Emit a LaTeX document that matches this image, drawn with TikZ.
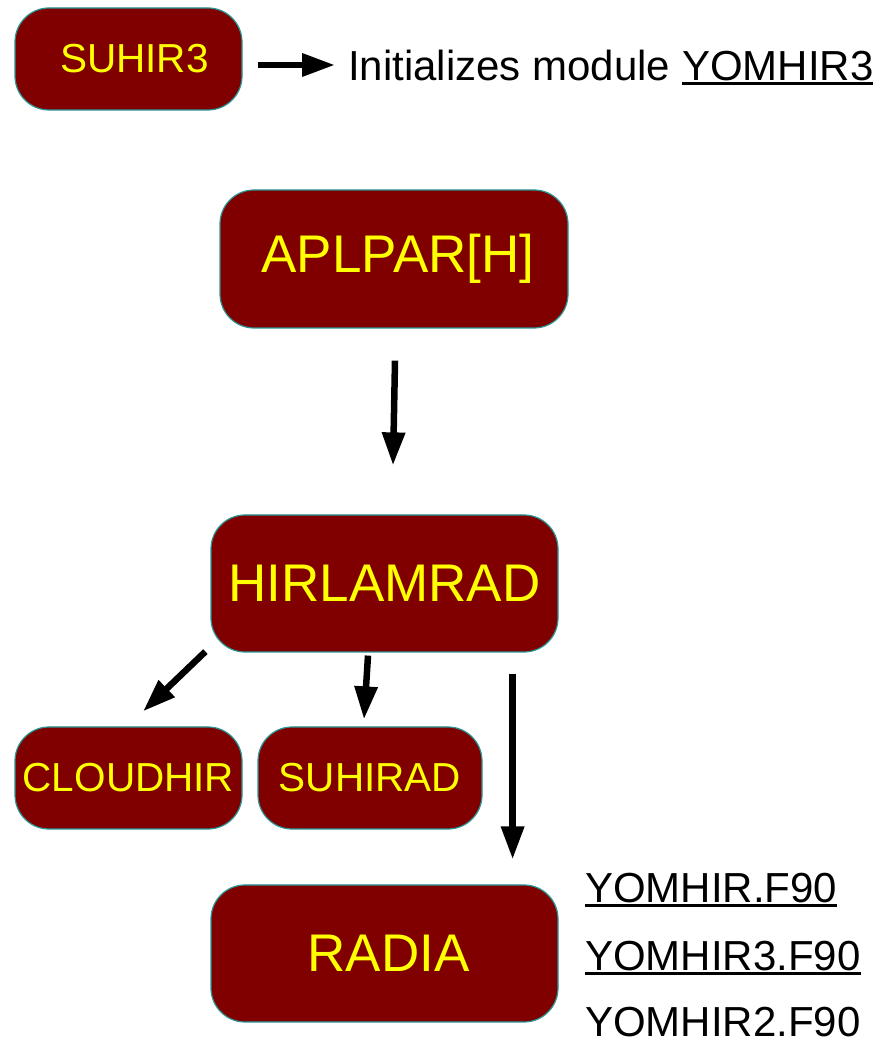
\documentclass[tikz,border=0pt]{standalone}
\usepackage{fontspec}
\setmainfont{Liberation Sans}
\usetikzlibrary{arrows.meta}
\definecolor{boxfill}{RGB}{128,0,0}
\definecolor{boxline}{RGB}{40,150,150}
\definecolor{boxtext}{RGB}{255,255,0}
\newlength\ulwd
\newcommand\ulbox[1]{\settowidth\ulwd{#1}\rlap{\rule[-4pt]{\ulwd}{2.5pt}}#1}
\tikzset{
  routine/.style={draw=boxline, line width=1.2pt, fill=boxfill, text=boxtext,
    rounded corners=34pt, inner sep=0pt},
  smallbox/.style={routine, minimum height=102pt, font=\fontsize{40.5}{48}\selectfont},
  bigbox/.style={routine, minimum width=347pt, minimum height=137pt,
    font=\fontsize{53}{60}\selectfont},
  note/.style={inner sep=0pt, anchor=base west, font=\fontsize{42}{50}\selectfont},
  callarrow/.style={line width=6.5pt, -{Triangle[length=33pt,width=22pt]}}
}
\begin{document}
\begin{tikzpicture}[x=1pt,y=1pt]
  \useasboundingbox (0,0) rectangle (881,1041);
  %
  \node[smallbox, minimum width=227pt] (suhir3) at (128.5,982) {\hspace{12pt}SUHIR3};
  \node[bigbox, minimum width=348pt, minimum height=138pt] (aplpar) at (394,782) {\hspace{8pt}APLPAR[H]};
  \node[bigbox] (hirlamrad) at (384.5,457.5) {HIRLAMRAD};
  \node[smallbox, minimum width=227pt] (cloudhir) at (128.5,263) {CLOUDHIR};
  \node[smallbox, minimum width=224pt] (suhirad) at (370,263) {SUHIRAD};
  \node[bigbox] (radia) at (384.5,87.5) {\hspace{8pt}RADIA};
  %
  \node[note] (init) at (348,960) {Initializes module \ulbox{YOMHIR3}};
  \node[note] (yomhir) at (585,138) {\ulbox{YOMHIR.F90}};
  \node[note] (yomhir3) at (585,70) {\ulbox{YOMHIR3.F90}};
  \node[note] (yomhir2) at (585,5) {YOMHIR2.F90};
  %
  \draw[callarrow] ([xshift=15pt,yshift=-6pt]suhir3.east) -- ([xshift=-13pt,yshift=16pt]init.base west);
  \draw[callarrow] ([xshift=1pt,yshift=-32pt]aplpar.south) -- ([xshift=8.5pt,yshift=49pt]hirlamrad.north);
  \draw[callarrow] ([xshift=-5pt,yshift=1pt]hirlamrad.south west) -- ([xshift=14.5pt,yshift=15pt]cloudhir.north);
  \draw[callarrow] ([xshift=-16.5pt,yshift=-3pt]hirlamrad.south) -- ([xshift=-6pt,yshift=7pt]suhirad.north);
  \draw[callarrow] ([xshift=-46pt,yshift=-21pt]hirlamrad.south east) -- ([xshift=-46pt,yshift=25pt]radia.north east);
\end{tikzpicture}
\end{document}
